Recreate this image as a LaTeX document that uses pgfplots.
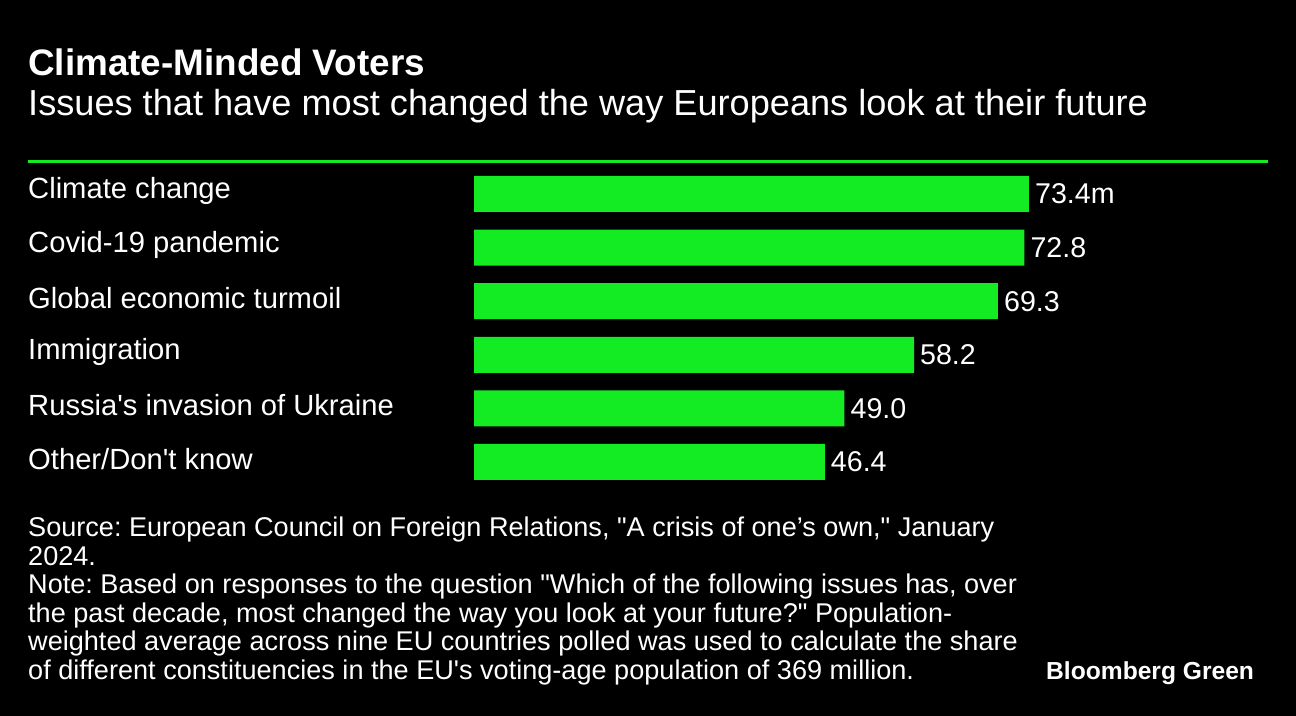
\documentclass[border=0pt]{standalone}
\usepackage{fontspec}
\setmainfont{Liberation Sans}[Ligatures=TeXOff]
\usepackage{pgfplots}
\usepackage{pgfplotstable}
\pgfplotsset{compat=1.18}
\frenchspacing
\definecolor{bgreen}{RGB}{19,235,34}
\pgfplotstableread{
idx value label
0 73.4 73.4m
1 72.8 72.8
2 69.3 69.3
3 58.2 58.2
4 49.0 49.0
5 46.4 46.4
}\data
\begin{document}
\begin{tikzpicture}[x=1bp,y=1bp]
\fill[black] (0,0) rectangle (1296,716);
\node[anchor=base west, inner sep=0, text=white, font=\fontsize{37}{42}\selectfont\bfseries] at (28,716-76) {Climate-Minded Voters};
\node[anchor=base west, inner sep=0, text=white, font=\fontsize{36.3}{40}\selectfont] at (28,716-116) {Issues that have most changed the way Europeans look at their future};
\fill[bgreen] (28,716-163.5) rectangle (1268,716-160.5);
\begin{axis}[
  at={(474bp,548.8bp)}, anchor=north west,
  scale only axis, width=756bp, height=321.6bp,
  xmin=0, xmax=100, ymin=-0.5, ymax=5.5,
  y dir=reverse,
  xbar, bar width=36bp, bar shift=0pt,
  axis line style={draw=none},
  xtick=\empty,
  ytick={0,...,5},
  yticklabels={Climate change,Covid-19 pandemic,Global economic turmoil,Immigration,Russia's invasion of Ukraine,Other/Don't know},
  major tick length=0pt,
  yticklabel style={anchor=west, xshift=-446bp, yshift=3bp, inner sep=0pt, text=white, font=\fontsize{29.3}{33}\selectfont},
  point meta=explicit symbolic,
  nodes near coords,
  nodes near coords style={anchor=west, xshift=5bp, inner sep=1pt, text=white, font=\fontsize{28.7}{32}\selectfont},
  clip=false,
]
\addplot[fill=bgreen, draw=none] table[x=value, y=idx, meta=label] {\data};
\end{axis}
\begin{scope}[every node/.style={anchor=base west, inner sep=0, text=white, font=\fontsize{27.2}{29}\selectfont}]
\node at (28,716-537) {Source: European Council on Foreign Relations, "A crisis of one’s own," January};
\node at (28,716-565.5) {2024.};
\node at (28,716-594) {Note: Based on responses to the question "Which of the following issues has, over};
\node at (28,716-622.5) {the past decade, most changed the way you look at your future?" Population-};
\node at (28,716-651) {weighted average across nine EU countries polled was used to calculate the share};
\node at (28,716-679.5) {of different constituencies in the EU's voting-age population of 369 million.};
\end{scope}
\node[anchor=base west, inner sep=0, text=white, font=\fontsize{24.7}{28}\selectfont\bfseries] at (1046,716-680) {Bloomberg Green};
\end{tikzpicture}
\end{document}
